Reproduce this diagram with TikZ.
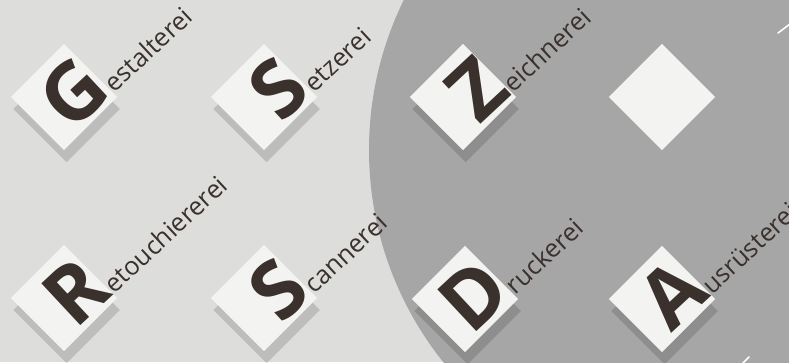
\documentclass[tikz,border=0pt]{standalone}
\usepackage{fontspec}
\setmainfont{Open Sans}
\usetikzlibrary{shapes.geometric,shadows,calc}
\definecolor{paper}{HTML}{DDDDDB}
\definecolor{discgrey}{HTML}{A6A6A6}
\definecolor{tilewhite}{HTML}{F3F3F1}
\definecolor{ink}{HTML}{3A302C}

\begin{document}
\begin{tikzpicture}[
    x=0.75pt, y=0.75pt,
    plate/.style={diamond, fill=tilewhite, inner sep=0pt, minimum width=80pt, minimum height=80pt},
    shadowed/.style={plate, drop shadow={shadow xshift=2pt, shadow yshift=-9pt, opacity=0.14, fill=black}},
    capital/.style={font=\fontsize{60}{60}\selectfont\bfseries, text=ink, rotate=43, inner sep=0pt, anchor=base east},
    wordtail/.style={font=\fontsize{19}{19}\selectfont, text=ink, rotate=43, inner sep=0pt, anchor=base west},
]
\useasboundingbox (0,0) rectangle (789,362);
\clip (0,0) rectangle (789,362);

% paper and the big grey disc
\fill[paper] (0,0) rectangle (789,362);
\fill[discgrey] (709,212) circle[radius=340];
\draw[white, line width=1.2pt, line cap=round] (778,329) -- (790,338);
\draw[white, line width=1.2pt, line cap=round] (743,-1) -- (749,5);

% top row
\node[shadowed] (gest)  at (64,265)  {};
\node[shadowed] (setz)  at (264,265) {};
\node[shadowed] (zeich) at (463,265) {};
\node[plate]    (leer)  at (662,265) {};

% bottom row
\node[shadowed] (ret)   at (64,64)   {};
\node[shadowed] (scan)  at (264,64)  {};
\node[shadowed] (druck) at (465,63)  {};
\node[shadowed] (ausr)  at (662,63)  {};

% letters and words
\node[capital]  (gestC)  at ($(gest.east)!0.06!(gest.north)$) {G};
\node[wordtail] (gestW)  at (gestC.base east) {estalterei};
\node[capital]  (setzC)  at ($(setz.east)!0.06!(setz.north)$) {S};
\node[wordtail] (setzW)  at (setzC.base east) {etzerei};
\node[capital]  (zeichC) at ($(zeich.east)!0.06!(zeich.north)$) {Z};
\node[wordtail] (zeichW) at (zeichC.base east) {eichnerei};

\node[capital]  (retC)   at ($(ret.east)!0.06!(ret.north)$) {R};
\node[wordtail] (retW)   at (retC.base east) {etouchiererei};
\node[capital]  (scanC)  at ($(scan.east)!0.06!(scan.north)$) {S};
\node[wordtail] (scanW)  at (scanC.base east) {cannerei};
\node[capital]  (druckC) at ($(druck.east)!0.06!(druck.north)$) {D};
\node[wordtail] (druckW) at (druckC.base east) {ruckerei};
\node[capital]  (ausrC)  at ($(ausr.east)!0.06!(ausr.north)$) {A};
\node[wordtail] (ausrW)  at (ausrC.base east) {usrüsterei};
\end{tikzpicture}
\end{document}
